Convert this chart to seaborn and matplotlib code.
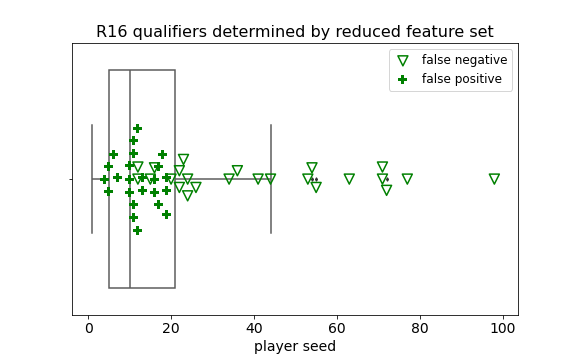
import matplotlib
matplotlib.use("Agg")
import matplotlib.pyplot as plt
import seaborn as sns

# Seeds of all R16 qualifiers (box summary: whiskers 1..44, Q1 5, median 10, Q3 21, outliers 54, 55, 72)
qualifier_seeds = [1, 2, 3, 3, 4, 5, 6, 7, 8, 9, 10, 12, 14, 16, 18, 21, 27, 44, 54, 55, 72]

# Misclassified players
false_negative = [12, 12, 15, 16, 20, 22, 22, 23, 24, 24, 26, 34, 36, 41, 44,
                  53, 54, 55, 63, 71, 71, 72, 77, 98]
false_positive = [4, 5, 5, 6, 7, 10, 10, 10, 11, 11, 11, 11, 12, 12, 13, 13,
                  16, 16, 17, 17, 18, 19, 19, 19]

labels = ["false negative", "false positive"]
title = "R16 qualifiers determined by reduced feature set"
xlabel = "player seed"

GREEN = "green"
LINE = "#5a5a5a"

fig, ax = plt.subplots(figsize=(8, 5), dpi=72)
fig.subplots_adjust(left=0.125, right=0.9, bottom=0.125, top=0.88)

sns.boxplot(x=qualifier_seeds, color="white", linecolor=LINE, linewidth=1.5,
            width=0.8, fliersize=2.5, ax=ax,
            flierprops=dict(marker="d", markerfacecolor="#333333", markeredgecolor="#333333"))

n0 = len(ax.collections)
sns.swarmplot(x=false_negative, color=GREEN, marker="v", size=10,
              linewidth=1.5, ax=ax, zorder=3)
c_fn = ax.collections[n0]
c_fn.set_facecolor("none")
c_fn.set_edgecolor(GREEN)
c_fn.set_linewidth(1.5)

n1 = len(ax.collections)
sns.swarmplot(x=false_positive, color=GREEN, marker="P", size=9,
              linewidth=3.5, edgecolor="none", ax=ax, zorder=3)
c_fp = ax.collections[n1]
c_fp.set_facecolor(GREEN)
c_fp.set_edgecolor("none")
c_fp.set_linewidth(3.5)

ax.set_xlim(-3.9, 103.8)
ax.set_ylim(0.5, -0.5)
ax.set_yticks([0])
ax.set_yticklabels([""])
ax.tick_params(axis="x", labelsize=14)
ax.set_xlabel(xlabel, fontsize=14)
ax.set_ylabel("")
ax.set_title(title, fontsize=16)

ax.legend(handles=[c_fn, c_fp], labels=labels, loc="upper right", fontsize=12,
          handlelength=1.6)

# Let seaborn lay out the swarms, then mirror them about the centre line
fig.canvas.draw()
for coll in (c_fn, c_fp):
    offs = coll.get_offsets().copy()
    offs[:, 1] = -offs[:, 1]
    if "draw" in coll.__dict__:
        del coll.__dict__["draw"]
    coll.set_offsets(offs)

fig.savefig("out.png", dpi=72)
